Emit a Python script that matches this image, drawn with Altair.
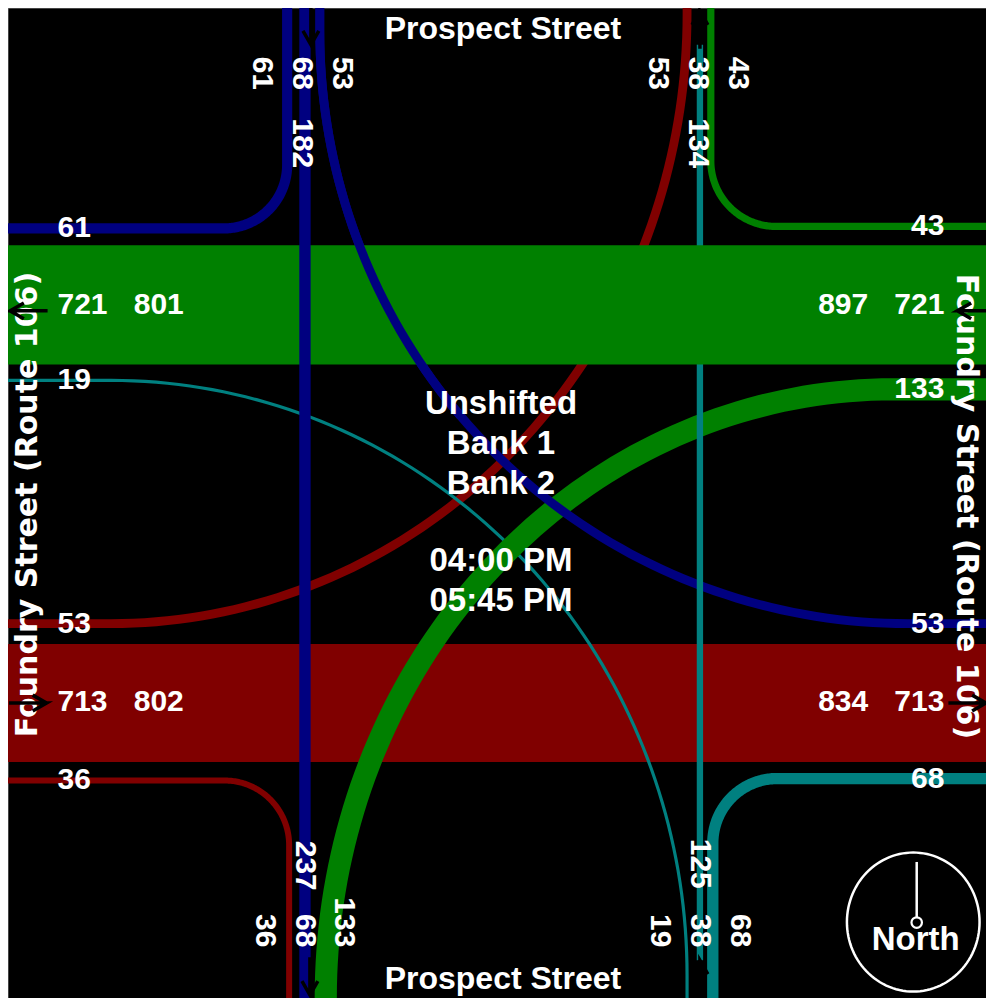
import math
import altair as alt
import pandas as pd

# ---------------- values ----------------
# turning-movement volumes per approach: [left, thru, right]
sb_volumes = [53, 68, 61]      # Prospect Street southbound (enters from top)
nb_volumes = [19, 38, 68]      # Prospect Street northbound (enters from bottom)
eb_volumes = [53, 713, 36]     # Foundry Street eastbound (enters from left)
wb_volumes = [133, 721, 43]    # Foundry Street westbound (enters from right)
approach_totals = [182, 125, 802, 897]    # SB, NB, EB, WB entering
departure_totals = [134, 237, 801, 834]   # leaving north, south, west, east
street_names = ["Prospect Street", "Foundry Street (Route 106)"]
center_lines = ["Unshifted", "Bank 1", "Bank 2", "04:00 PM", "05:45 PM"]
compass_label = "North"

BLUE, TEAL, RED, GREEN = "#000080", "#008080", "#800000", "#008000"
PX = 1.0 / 6.0  # stroke pixels per vehicle

sbL, sbT, sbR = sb_volumes
nbL, nbT, nbR = nb_volumes
ebL, ebT, ebR = eb_volumes
wbL, wbT, wbR = wb_volumes


def arc(cx, cy, rx, ry, a0, a1, n=80):
    out = []
    for i in range(n + 1):
        a = math.radians(a0 + (a1 - a0) * i / n)
        out.append((cx + rx * math.cos(a), cy + ry * math.sin(a)))
    return out


# geometry of each movement path (layout, in page pixels)
paths = {
    "sbR": ([(288, -5)] + arc(224, 164, 64, 64, 0, 90) + [(-5, 228)], BLUE, sbR),
    "sbT": ([(306, -5), (306, 1010)], BLUE, sbT),
    "sbL": ([(321, -5)] + arc(915, 30, 594, 596, 180, 90) + [(1000, 626)], BLUE, sbL),
    "nbL": ([(692, 1010)] + arc(110, 980, 582, 599, 0, -90) + [(-5, 381)], TEAL, nbL),
    "nbT": ([(705, 43), (705, 965)], TEAL, nbT),
    "nbR": ([(718, 1010)] + arc(783, 847, 65, 65, 180, 270) + [(1000, 782)], TEAL, nbR),
    "ebL": ([(-5, 626)] + arc(110, 12, 582, 614, 90, 0) + [(692, -5)], RED, ebL),
    "ebR": ([(-5, 784)] + arc(225, 849, 65, 65, 270, 360) + [(290, 1010)], RED, ebR),
    "wbL": ([(1000, 390)] + arc(900, 1003, 573, 613, 270, 180) + [(327, 1010)], GREEN, wbL),
    "wbR": ([(1000, 226)] + arc(782, 160, 66, 66, 90, 180) + [(716, -5)], GREEN, wbR),
}


def path_df(keys, ymax=None):
    rows = []
    for k in keys:
        pts, col, v = paths[k]
        for i, (x, y) in enumerate(pts):
            if ymax is not None and y > ymax:
                continue
            rows.append({"path": k, "seq": i, "x": x, "y": y, "color": col, "w": v * PX})
    return pd.DataFrame(rows)


xs = alt.Scale(domain=[6, 994], nice=False, zero=False)
ys = alt.Scale(domain=[6, 1003], nice=False, zero=False, reverse=True)
X = lambda f="x": alt.X(f"{f}:Q", scale=xs, axis=None)
Y = lambda f="y": alt.Y(f"{f}:Q", scale=ys, axis=None)


def lines(df):
    return alt.Chart(df).mark_line(clip=True, strokeCap="butt", strokeJoin="round").encode(
        x=X(), y=Y(), order="seq:Q", detail="path:N",
        color=alt.Color("color:N", scale=None),
        strokeWidth=alt.StrokeWidth("w:Q", scale=None),
    )


def band(vol, cy, col):
    df = pd.DataFrame([{"x": -5, "x2": 1000, "y": cy - vol * PX / 2, "y2": cy + vol * PX / 2}])
    return alt.Chart(df).mark_rect(clip=True, color=col).encode(
        x=X(), x2="x2:Q", y=Y(), y2="y2:Q")


def texts(rows, size, align="left", angle=0, font="Liberation Sans", baseline="middle"):
    df = pd.DataFrame(rows, columns=["x", "y", "label"])
    return alt.Chart(df).mark_text(
        font=font, fontSize=size, fontWeight="bold", color="white",
        align=align, baseline=baseline, angle=angle,
    ).encode(x=X(), y=Y(), text="label:N")


# ---- arrows ----
def arrow_rows(aid, tx, ty, d, L=38, hl=14, hw=8):
    dx, dy = {"up": (0, -1), "down": (0, 1), "left": (-1, 0), "right": (1, 0)}[d]
    px, py = -dy, dx
    tail = (tx - dx * L, ty - dy * L)
    base = (tx - dx * hl, ty - dy * hl)
    w1 = (base[0] + px * hw, base[1] + py * hw)
    w2 = (base[0] - px * hw, base[1] - py * hw)
    pts = [tail, (tx, ty), w1, (tx, ty), w2]
    return [{"path": aid, "seq": i, "x": x, "y": y} for i, (x, y) in enumerate(pts)]


arrows = []
for aid, spec in enumerate([
    (312, 43, "down"), (705, 9, "up"), (311, 1000, "down"), (705, 965, "up"),
    (8, 311, "left"), (965, 311, "left"), (45, 706, "right"), (994, 706, "right"),
]):
    arrows += arrow_rows(aid, *spec)
arrow_layer = alt.Chart(pd.DataFrame(arrows)).mark_line(
    clip=True, color="black", strokeWidth=3.5, strokeCap="butt", strokeJoin="miter"
).encode(x=X(), y=Y(), order="seq:Q", detail="path:N")

# ---- compass ----
circ = pd.DataFrame([{"seq": i, "x": x, "y": y} for i, (x, y) in enumerate(arc(920.5, 926.5, 67, 70, 0, 360, 120))])
compass_ring = alt.Chart(circ).mark_line(color="white", strokeWidth=2.5).encode(x=X(), y=Y(), order="seq:Q")
needle = alt.Chart(pd.DataFrame([{"x": 924, "y": 866, "y2": 922}])).mark_rule(color="white", strokeWidth=2.5).encode(
    x=X(), y=Y(), y2="y2:Q")
hub = alt.Chart(pd.DataFrame([{"x": 924, "y": 927}])).mark_point(
    shape="circle", size=110, filled=True, fill="black", stroke="white", strokeWidth=2.2, opacity=1
).encode(x=X(), y=Y())

# ---- number labels ----
NUM = 30
top_labels = texts([(263, 55, sbR), (303, 55, sbT), (343, 55, sbL), (303, 117, approach_totals[0]),
                    (663, 55, ebL), (703, 55, nbT), (743, 55, wbR), (703, 117, departure_totals[0])],
                   NUM, align="left", angle=90)
bottom_labels = texts([(266, 952, ebR), (306, 952, sbT), (345, 952, wbL), (306, 895, departure_totals[1]),
                       (665, 952, nbL), (705, 952, nbT), (745, 952, nbR), (705, 893, approach_totals[1])],
                      NUM, align="right", angle=90)
left_labels = texts([(56, 228, sbR), (56, 305, wbT), (56, 381, nbL), (56, 626, ebL), (56, 705, ebT),
                     (56, 783, ebR), (133, 305, departure_totals[2]), (133, 705, approach_totals[2])],
                    NUM, align="left")
right_labels = texts([(952, 226, wbR), (952, 305, wbT), (952, 390, wbL), (952, 626, sbL), (952, 705, ebT),
                      (952, 782, nbR), (875, 305, approach_totals[3]), (875, 705, departure_totals[3])],
                     NUM, align="right")

street_top = texts([(506, 27, street_names[0]), (506, 984, street_names[0])], 32, align="center")
foundry_left = texts([(26, 506, street_names[1])], 30, align="center", angle=270, font="DejaVu Sans")
foundry_right = texts([(974, 508, street_names[1])], 30, align="center", angle=90, font="DejaVu Sans")
center_y = [405, 445, 485, 563, 603]
center_txt = texts([(504, y, t) for y, t in zip(center_y, center_lines)], 33, align="center")
north_txt = texts([(923, 945, compass_label)], 33, align="center")

chart = alt.layer(
    band(ebT, 706, RED),
    lines(path_df(["ebL", "ebR"])),
    lines(path_df(["nbL"])),
    lines(path_df(["wbL", "wbR"])),
    lines(path_df(["sbL"])),
    lines(path_df(["nbT", "nbR"])),
    band(wbT, 305, GREEN),
    lines(path_df(["sbL"], ymax=420)),
    lines(path_df(["sbR", "sbT"])),
    compass_ring, needle, hub,
    top_labels, bottom_labels, left_labels, right_labels,
    street_top, foundry_left, foundry_right, center_txt, north_txt,
    arrow_layer,
).properties(width=978, height=990, padding=0).configure(background="white").configure_view(
    fill="black", stroke="#444", strokeWidth=1)

chart.save("out.html", embed_options={"renderer": "svg", "actions": False})
